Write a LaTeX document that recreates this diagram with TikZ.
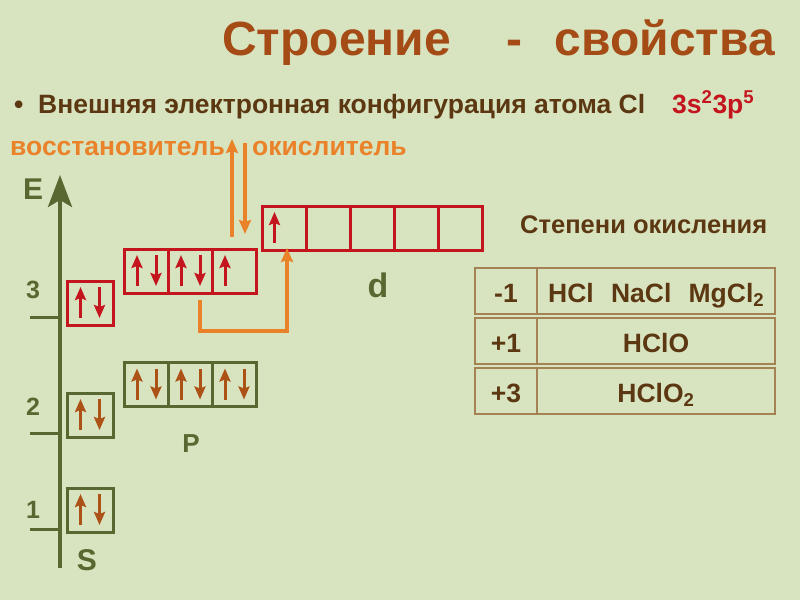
\documentclass[tikz,border=0pt]{standalone}
\usepackage{fontspec}
\setmainfont{Liberation Sans}
\usetikzlibrary{arrows.meta}
\definecolor{bg}{RGB}{216,228,192}
\definecolor{titlec}{RGB}{165,75,22}
\definecolor{txt}{RGB}{92,56,18}
\definecolor{redc}{RGB}{196,20,30}
\definecolor{orng}{RGB}{234,130,42}
\definecolor{grn}{RGB}{88,104,48}
\definecolor{brn}{RGB}{172,82,22}
\definecolor{tbl}{RGB}{164,130,84}
\tikzset{
  rcell/.style={draw=redc, line width=3pt, minimum width=44pt, minimum height=44pt, inner sep=0pt, outer sep=0pt},
  gcell/.style={draw=grn, line width=3pt, minimum width=44pt, minimum height=44pt, inner sep=0pt, outer sep=0pt},
  tcell/.style={draw=tbl, line width=1.5pt, inner sep=0pt, outer sep=0pt},
  eup/.style={line width=3pt, -{Stealth[length=13pt,width=11pt,inset=2pt]}},
  txtf/.style={font=\fontsize{26.5}{32}\selectfont\bfseries, text=txt, inner sep=0pt},
  lbl/.style={font=\fontsize{30}{36}\selectfont\bfseries, text=grn, inner sep=0pt},
  oarr/.style={draw=orng, line width=3.2pt, -{Stealth[length=14pt,width=12pt,inset=2pt]}}
}
\newcommand{\pairIn}[2]{%
  \draw[eup,#2] ([xshift=-9.5pt,yshift=-15pt]#1.center) -- ([xshift=-9.5pt,yshift=16pt]#1.center);
  \draw[eup,#2] ([xshift=9.5pt,yshift=16pt]#1.center) -- ([xshift=9.5pt,yshift=-15pt]#1.center);}
\newcommand{\upIn}[2]{%
  \draw[eup,#2] ([xshift=-9.5pt,yshift=-15pt]#1.center) -- ([xshift=-9.5pt,yshift=16pt]#1.center);}
\begin{document}
\begin{tikzpicture}[x=1pt,y=-1pt]
\fill[bg] (0,0) rectangle (800,600);
\useasboundingbox (0,0) rectangle (800,600);

% title
\node[anchor=base west, inner sep=0pt, text=titlec, font=\fontsize{48}{56}\selectfont\bfseries] (t1) at (222,55) {Строение};
\node[anchor=base, inner sep=0pt, text=titlec, font=\fontsize{48}{56}\selectfont\bfseries] (t2) at (514,55) {-};
\node[anchor=base east, inner sep=0pt, text=titlec, font=\fontsize{48}{56}\selectfont\bfseries] (t3) at (775,55) {свойства};

% bullet line
\node[txtf, anchor=base west] (bul) at (14,113) {•};
\node[txtf, anchor=base west] (ext) at (38,113) {Внешняя электронная конфигурация атома Cl};
\node[txtf, anchor=base west, text=redc] (cfg) at (672,113) {3s\textsuperscript{2}3p\textsuperscript{5}};

% red/ox labels
\node[txtf, anchor=base west, text=orng] (red) at (10,155) {восстановитель};
\node[txtf, anchor=base west, text=orng] (ox) at (252,155) {окислитель};

% energy axis
\coordinate (ax0) at (60,568);
\coordinate (ax1) at (60,175);
\draw[grn, line width=4pt, -{Stealth[length=32pt,width=24pt,inset=7pt]}] (ax0) -- (ax1);
\node[lbl, anchor=base west] (E) at (23,199) {E};
\foreach \yy in {317,433,529}{
  \draw[grn, line width=3pt] (30,\yy) -- (62,\yy);
}
\node[anchor=base, inner sep=0pt, text=grn, font=\fontsize{25}{30}\selectfont\bfseries] (n3) at (33,298) {3};
\node[anchor=base, inner sep=0pt, text=grn, font=\fontsize{25}{30}\selectfont\bfseries] (n2) at (33,415) {2};
\node[anchor=base, inner sep=0pt, text=grn, font=\fontsize{25}{30}\selectfont\bfseries] (n1) at (33,518) {1};

% s cells
\node[rcell, minimum width=46pt] (s3) at (90,303) {};
\node[gcell, minimum width=46pt] (s2) at (90,415) {};
\node[gcell, minimum width=46pt] (s1) at (90,510) {};
\pairIn{s3}{redc}
\pairIn{s2}{brn}
\pairIn{s1}{brn}

% p cells
\node[rcell] (p3a) at (146.5,271) {};
\node[rcell] (p3b) at (190.5,271) {};
\node[rcell] (p3c) at (234.5,271) {};
\node[gcell] (p2a) at (146.5,384.5) {};
\node[gcell] (p2b) at (190.5,384.5) {};
\node[gcell] (p2c) at (234.5,384.5) {};
\pairIn{p3a}{redc}
\pairIn{p3b}{redc}
\upIn{p3c}{redc}
\pairIn{p2a}{brn}
\pairIn{p2b}{brn}
\pairIn{p2c}{brn}

% d cells
\node[rcell] (d1) at (284,228) {};
\node[rcell] (d2) at (328,228) {};
\node[rcell] (d3) at (372,228) {};
\node[rcell] (d4) at (416,228) {};
\node[rcell] (d5) at (460,228) {};
\upIn{d1}{redc}

% sublevel labels
\node[anchor=base, inner sep=0pt, text=grn, font=\fontsize{34}{40}\selectfont\bfseries] (dl) at (378,297) {d};
\node[anchor=base, inner sep=0pt, text=grn, font=\fontsize{26}{30}\selectfont\bfseries] (pl) at (191,452) {P};
\node[anchor=base, inner sep=0pt, text=grn, font=\fontsize{30}{36}\selectfont\bfseries] (sl) at (87,570) {S};

% orange arrows
\coordinate (upb) at (232,237);
\coordinate (upt) at (232,139);
\coordinate (dnt) at (245,143);
\coordinate (dnb) at (245,234);
\draw[oarr] (upb) -- (upt);
\draw[oarr] (dnt) -- (dnb);
\coordinate (bs) at (200,300);
\draw[oarr] (bs) -- (200,331) -- (287,331) -- ([yshift=2pt]d1.south -| 287,0);

% oxidation states
\node[txtf, anchor=base west, font=\fontsize{25.5}{30}\selectfont\bfseries] (st) at (520,233) {Степени окисления};
\node[tcell, minimum width=62pt, minimum height=46pt, anchor=north west] (a1) at (475,268) {};
\node[tcell, minimum width=238pt, minimum height=46pt, anchor=north west] (b1) at (537,268) {};
\node[tcell, minimum width=62pt, minimum height=46pt, anchor=north west] (a2) at (475,318) {};
\node[tcell, minimum width=238pt, minimum height=46pt, anchor=north west] (b2) at (537,318) {};
\node[tcell, minimum width=62pt, minimum height=46pt, anchor=north west] (a3) at (475,368) {};
\node[tcell, minimum width=238pt, minimum height=46pt, anchor=north west] (b3) at (537,368) {};
\node[txtf, anchor=base] (v1) at (506,302) {-1};
\node[txtf, anchor=base] (v2) at (506,352) {+1};
\node[txtf, anchor=base] (v3) at (506,402) {+3};
\node[txtf, anchor=base west] (c1) at (548,302) {HCl\hspace{0.65em}NaCl\hspace{0.65em}MgCl\textsubscript{2}};
\node[txtf, anchor=base] (c2) at (656,352) {HClO};
\node[txtf, anchor=base] (c3) at (656,402) {HClO\textsubscript{2}};
\end{tikzpicture}
\end{document}
